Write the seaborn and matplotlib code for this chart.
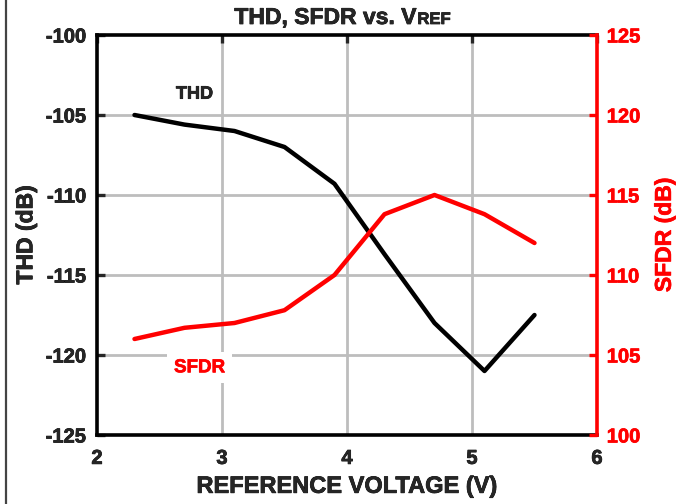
import numpy as np
import pandas as pd
import matplotlib
matplotlib.use("Agg")
import matplotlib.pyplot as plt
import matplotlib.patheffects as pe
from matplotlib.lines import Line2D
import seaborn as sns

# values
vref = [2.3, 2.7, 3.1, 3.5, 3.9, 4.3, 4.7, 5.1, 5.5]
thd = [-105.0, -105.6, -106.0, -107.0, -109.3, -113.7, -118.0, -121.0, -117.5]
sfdr = [106.0, 106.7, 107.0, 107.8, 110.0, 113.8, 115.0, 113.8, 112.0]

x_ticks = [2, 3, 4, 5, 6]
thd_ticks = [-125, -120, -115, -110, -105, -100]
sfdr_ticks = [100, 105, 110, 115, 120, 125]

df = pd.DataFrame({"VREF": vref, "THD": thd, "SFDR": sfdr})

sns.set_style("white")
plt.rcParams["font.family"] = ["Liberation Sans", "DejaVu Sans"]
plt.rcParams["font.weight"] = "bold"
plt.rcParams["axes.unicode_minus"] = False

RED = "#ff0000"


def heavy(color):
    # slightly thicker strokes, the reference font is very heavy
    return [pe.withStroke(linewidth=0.5, foreground=color)]


fig = plt.figure(figsize=(6.85, 5.04), dpi=100)
ax = fig.add_axes([97 / 685, 1 - 435 / 504, 500 / 685, 400 / 504])
ax2 = ax.twinx()

grid_c = "#bdbdbd"
for xv in x_ticks[1:-1]:
    ax.axvline(xv, color=grid_c, lw=2.0, zorder=0)
for yv in thd_ticks[1:-1]:
    ax.axhline(yv, color=grid_c, lw=2.0, zorder=0)

sns.lineplot(data=df, x="VREF", y="THD", ax=ax, color="black", lw=3.2, zorder=3)
sns.lineplot(data=df, x="VREF", y="SFDR", ax=ax2, color=RED, lw=3.2, zorder=3)

ax.set_xlim(2, 6)
ax.set_ylim(-125, -100)
ax2.set_ylim(100, 125)
ax.set_xticks(x_ticks)
ax.set_yticks(thd_ticks)
ax2.set_yticks(sfdr_ticks)

ax.tick_params(axis="both", direction="in", length=6, width=2.4, labelsize=14.5,
               top=True, pad=8)
ax.tick_params(axis="x", pad=10)
ax2.tick_params(axis="y", direction="in", length=6, width=2.4, labelsize=14.5,
                colors=RED, pad=7)
for lab in ax.get_xticklabels() + ax.get_yticklabels():
    lab.set_fontweight("bold")
    lab.set_path_effects(heavy("black"))
for lab in ax2.get_yticklabels():
    lab.set_fontweight("bold")
    lab.set_path_effects(heavy(RED))

for s in ["left", "bottom", "top"]:
    ax.spines[s].set_linewidth(2.6)
    ax.spines[s].set_color("black")
ax.spines["right"].set_visible(False)
for s in ["left", "bottom", "top"]:
    ax2.spines[s].set_visible(False)
ax2.spines["right"].set_linewidth(2.6)
ax2.spines["right"].set_color(RED)

ax.set_xlabel("REFERENCE VOLTAGE (V)", fontsize=17, fontweight="bold", labelpad=5,
              path_effects=heavy("black"))
ax.set_ylabel("THD (dB)", fontsize=16.5, fontweight="bold", labelpad=6,
              path_effects=heavy("black"))
ax2.set_ylabel("SFDR (dB)", fontsize=16.5, fontweight="bold", color=RED, labelpad=9,
               path_effects=heavy(RED))

ax.text(2.78, -103.7, "THD", fontsize=13, fontweight="bold", ha="center", va="center",
        zorder=4, path_effects=heavy("black"))
ax2.text(2.82, 104.2, "SFDR", fontsize=13.5, fontweight="bold", color=RED,
         ha="center", va="center", zorder=4, path_effects=heavy(RED),
         bbox=dict(facecolor="white", edgecolor="none", pad=5))

# title with small "REF" after the V
base_y = 1 - 24 / 504
t1 = fig.text(0.5, base_y, "THD, SFDR vs. V", fontsize=16.5, fontweight="bold",
              ha="left", va="baseline", path_effects=heavy("black"))
t2 = fig.text(0.5, base_y, "REF", fontsize=12, fontweight="bold",
              ha="left", va="baseline", path_effects=heavy("black"))
fig.canvas.draw()
r = fig.canvas.get_renderer()
w1 = t1.get_window_extent(r).width
w2 = t2.get_window_extent(r).width
cx = 342
x0 = cx - (w1 + w2) / 2
t1.set_x(x0 / fig.bbox.width)
t2.set_x((x0 + w1 + 1) / fig.bbox.width)

fig.add_artist(Line2D([5.5 / 685, 5.5 / 685], [0, 1], color="#444444", lw=1.6))

fig.savefig("out.png", dpi=100, facecolor="white")
